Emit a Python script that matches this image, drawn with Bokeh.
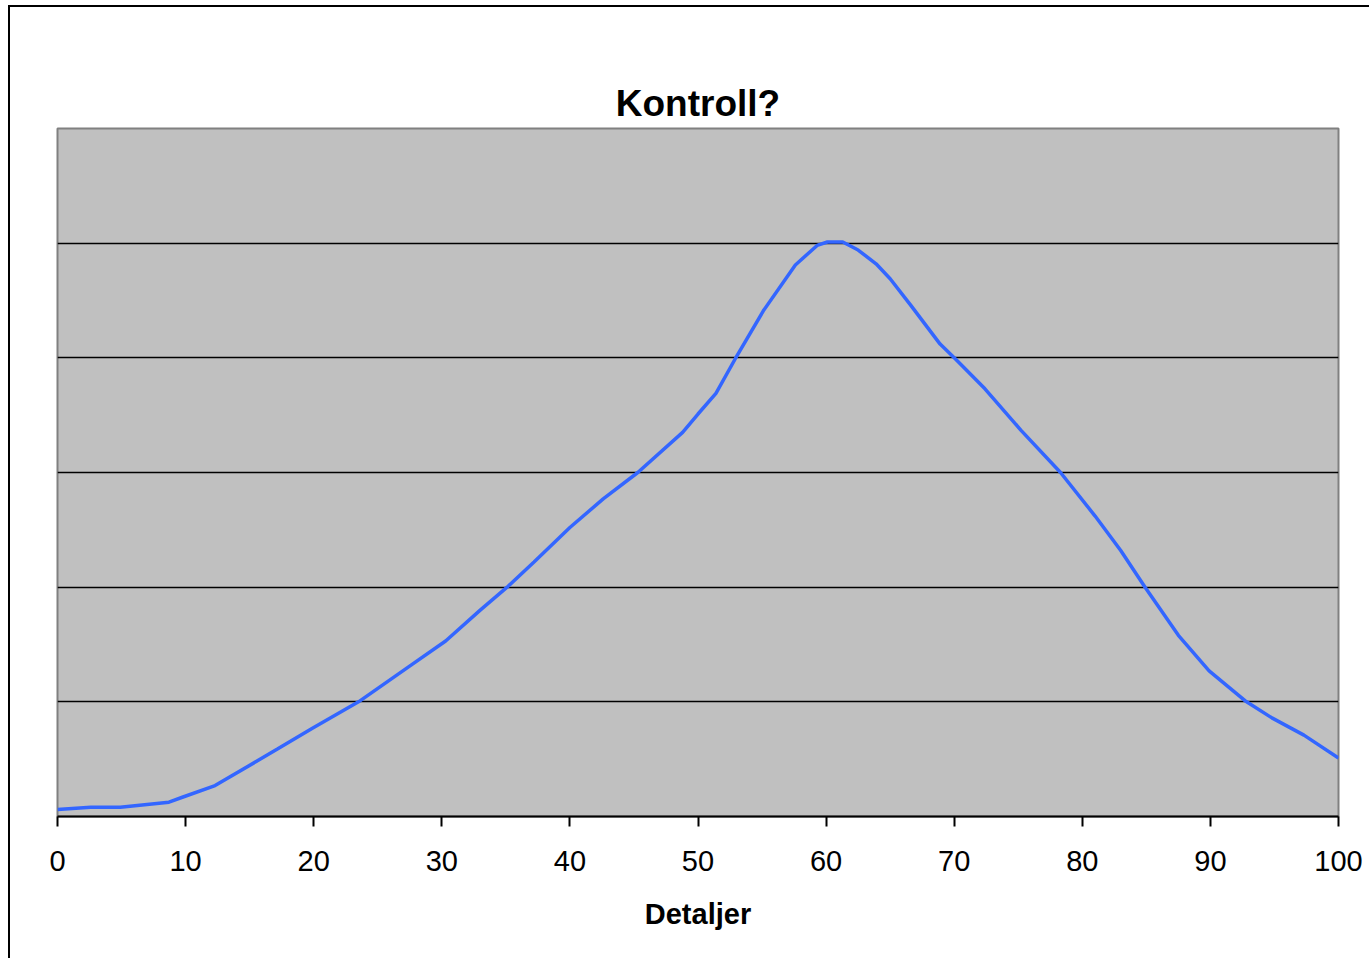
from bokeh.plotting import figure
from bokeh.models import Range1d, FixedTicker, Title
from bokeh.embed import file_html
from bokeh.resources import INLINE

# Data
x_vals = [0, 2.6, 4.9, 8.7, 9.8, 12.3, 17.2, 19.9, 23.5, 27.6, 30.3, 33.0, 35.1,
          37.2, 40.0, 42.6, 45.3, 48.8, 50.0, 51.4, 52.9, 55.1, 57.6, 59.3, 60.1,
          61.3, 62.5, 63.9, 65.0, 66.6, 68.9, 70.1, 72.4, 75.2, 78.3, 81.0, 83.0,
          84.9, 87.5, 89.9, 92.7, 94.8, 97.3, 100.0]
y_vals = [0.06, 0.08, 0.08, 0.125, 0.17, 0.27, 0.59, 0.77, 1.0, 1.32, 1.53, 1.80, 2.0,
          2.22, 2.52, 2.77, 3.0, 3.35, 3.51, 3.69, 3.99, 4.41, 4.81, 4.98, 5.01,
          5.01, 4.94, 4.82, 4.69, 4.46, 4.12, 3.99, 3.73, 3.37, 3.0, 2.62, 2.32,
          2.0, 1.58, 1.27, 1.01, 0.86, 0.71, 0.51]
x_ticks = [0, 10, 20, 30, 40, 50, 60, 70, 80, 90, 100]
grid_levels = [1, 2, 3, 4, 5]
title_text = "Kontroll?"

FONT = "Liberation Sans"

p = figure(width=1361, height=953, output_backend="svg", toolbar_location=None,
           x_range=Range1d(0, 100), y_range=Range1d(0, 6),
           min_border_left=47, min_border_right=33, min_border_bottom=144,
           min_border_top=121)

# blank spacer title next to the plot area, real title stacked above it
p.title.text = " "
p.title.text_font = FONT
p.title.text_font_size = "37px"
p.title.text_font_style = "bold"
p.title.standoff = 0
p.add_layout(Title(text=title_text, align="center", text_font=FONT,
                   text_font_size="37px", text_font_style="bold",
                   text_color="black", standoff=10), "above")

p.background_fill_color = "#C0C0C0"
p.border_fill_color = "white"
p.outline_line_color = "#808080"
p.outline_line_width = 2

p.yaxis.visible = False
p.xgrid.visible = False
p.ygrid.ticker = FixedTicker(ticks=grid_levels)
p.ygrid.grid_line_color = "black"
p.ygrid.grid_line_width = 1.5

ax = p.xaxis[0]
ax.ticker = FixedTicker(ticks=x_ticks)
ax.axis_line_color = "black"
ax.axis_line_width = 2
ax.major_tick_line_color = "black"
ax.major_tick_line_width = 2
ax.major_tick_out = 10
ax.major_tick_in = 0
ax.minor_tick_line_color = None
ax.major_label_text_font = FONT
ax.major_label_text_font_size = "29px"
ax.major_label_text_color = "black"
ax.major_label_standoff = 24
ax.axis_label = "Detaljer"
ax.axis_label_text_font = FONT
ax.axis_label_text_font_size = "29px"
ax.axis_label_text_font_style = "bold"
ax.axis_label_text_color = "black"
ax.axis_label_standoff = 24

p.line(x_vals, y_vals, line_color="#3366FF", line_width=3.5)

p.styles = {"border-left": "2px solid black", "border-top": "2px solid black",
            "margin-left": "8px", "margin-top": "5px"}

open("out.html", "w").write(file_html(p, INLINE))
